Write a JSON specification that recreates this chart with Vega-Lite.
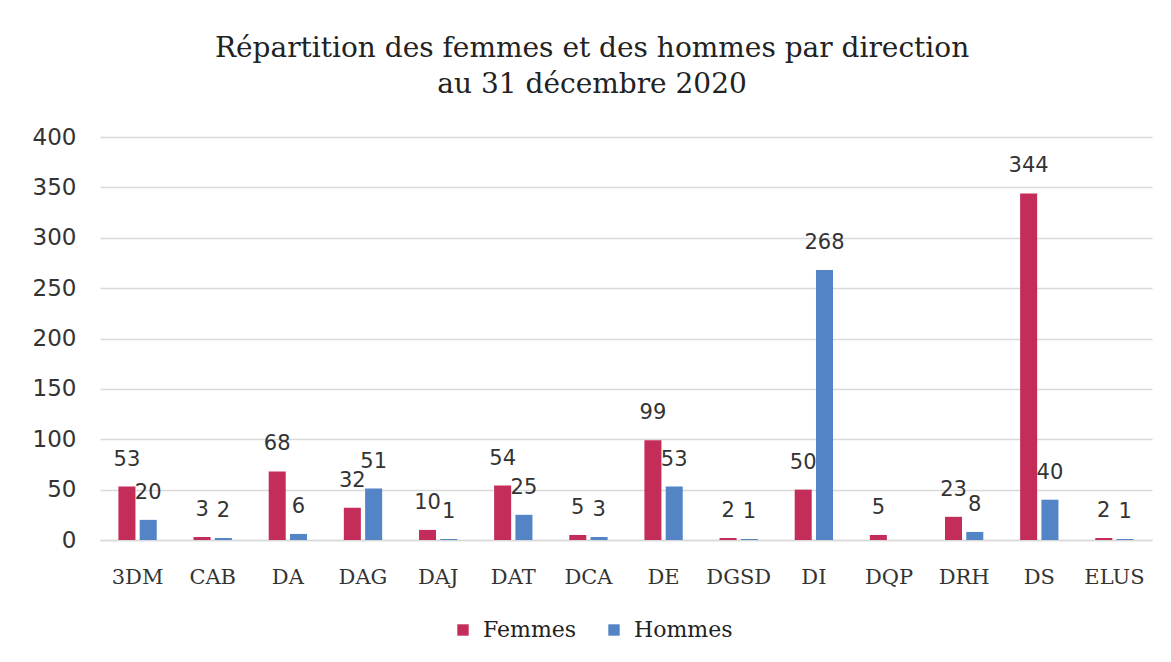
{
  "$schema": "https://vega.github.io/schema/vega-lite/v6.json",
  "width": 1052,
  "height": 403,
  "autosize": {"type": "none"},
  "padding": {"left": 100, "top": 137, "right": 19, "bottom": 122},
  "background": "white",
  "title": {
    "text": ["Répartition des femmes et des hommes par direction", "au 31 décembre 2020"],
    "font": "DejaVu Serif",
    "fontSize": 28,
    "fontWeight": "normal",
    "color": "#222222",
    "anchor": "middle",
    "frame": "bounds",
    "lineHeight": 36,
    "offset": 27
  },
  "data": {
    "values": [
      {"direction": "3DM", "sexe": "Femmes", "n": 53},
      {"direction": "3DM", "sexe": "Hommes", "n": 20},
      {"direction": "CAB", "sexe": "Femmes", "n": 3},
      {"direction": "CAB", "sexe": "Hommes", "n": 2},
      {"direction": "DA", "sexe": "Femmes", "n": 68},
      {"direction": "DA", "sexe": "Hommes", "n": 6},
      {"direction": "DAG", "sexe": "Femmes", "n": 32},
      {"direction": "DAG", "sexe": "Hommes", "n": 51},
      {"direction": "DAJ", "sexe": "Femmes", "n": 10},
      {"direction": "DAJ", "sexe": "Hommes", "n": 1},
      {"direction": "DAT", "sexe": "Femmes", "n": 54},
      {"direction": "DAT", "sexe": "Hommes", "n": 25},
      {"direction": "DCA", "sexe": "Femmes", "n": 5},
      {"direction": "DCA", "sexe": "Hommes", "n": 3},
      {"direction": "DE", "sexe": "Femmes", "n": 99},
      {"direction": "DE", "sexe": "Hommes", "n": 53},
      {"direction": "DGSD", "sexe": "Femmes", "n": 2},
      {"direction": "DGSD", "sexe": "Hommes", "n": 1},
      {"direction": "DI", "sexe": "Femmes", "n": 50},
      {"direction": "DI", "sexe": "Hommes", "n": 268},
      {"direction": "DQP", "sexe": "Femmes", "n": 5},
      {"direction": "DRH", "sexe": "Femmes", "n": 23},
      {"direction": "DRH", "sexe": "Hommes", "n": 8},
      {"direction": "DS", "sexe": "Femmes", "n": 344},
      {"direction": "DS", "sexe": "Hommes", "n": 40},
      {"direction": "ELUS", "sexe": "Femmes", "n": 2},
      {"direction": "ELUS", "sexe": "Hommes", "n": 1}
    ]
  },
  "encoding": {
    "x": {
      "field": "direction",
      "type": "nominal",
      "sort": null,
      "scale": {"paddingInner": 0.49, "paddingOuter": 0.245},
      "axis": {
        "title": null,
        "labelAngle": 0,
        "labelFont": "DejaVu Serif",
        "labelFontSize": 21,
        "labelColor": "#333333",
        "labelPadding": 26,
        "ticks": false,
        "domainColor": "#d9d9d9",
        "domainWidth": 1.5
      }
    },
    "xOffset": {
      "field": "sexe",
      "type": "nominal",
      "scale": {"domain": ["Femmes", "Hommes"], "paddingInner": 0.2, "paddingOuter": 0}
    },
    "y": {
      "field": "n",
      "type": "quantitative",
      "scale": {"domain": [0, 400]},
      "axis": {
        "title": null,
        "values": [0, 50, 100, 150, 200, 250, 300, 350, 400],
        "labelFont": "DejaVu Sans",
        "labelFontSize": 23,
        "labelColor": "#333333",
        "labelPadding": 24,
        "ticks": false,
        "domain": false,
        "gridColor": "#d9d9d9",
        "gridWidth": 1.5
      }
    }
  },
  "layer": [
    {
      "mark": {"type": "bar"},
      "encoding": {
        "color": {
          "field": "sexe",
          "type": "nominal",
          "scale": {"domain": ["Femmes", "Hommes"], "range": ["#c42d5a", "#5384c6"]},
          "legend": {
            "title": null,
            "orient": "none",
            "direction": "horizontal",
            "legendX": 352,
            "legendY": 482,
            "symbolType": "square",
            "symbolSize": 130,
            "symbolStrokeWidth": 0,
            "labelFont": "DejaVu Serif",
            "labelFontSize": 22,
            "labelColor": "#222222",
            "columnPadding": 26,
            "labelOffset": 9
          }
        }
      }
    },
    {
      "mark": {
        "type": "text",
        "baseline": "bottom",
        "dy": -17,
        "font": "DejaVu Sans",
        "fontSize": 21,
        "color": "#333333"
      },
      "encoding": {
        "text": {"field": "n", "type": "quantitative"}
      }
    }
  ],
  "config": {
    "view": {"stroke": null}
  }
}
